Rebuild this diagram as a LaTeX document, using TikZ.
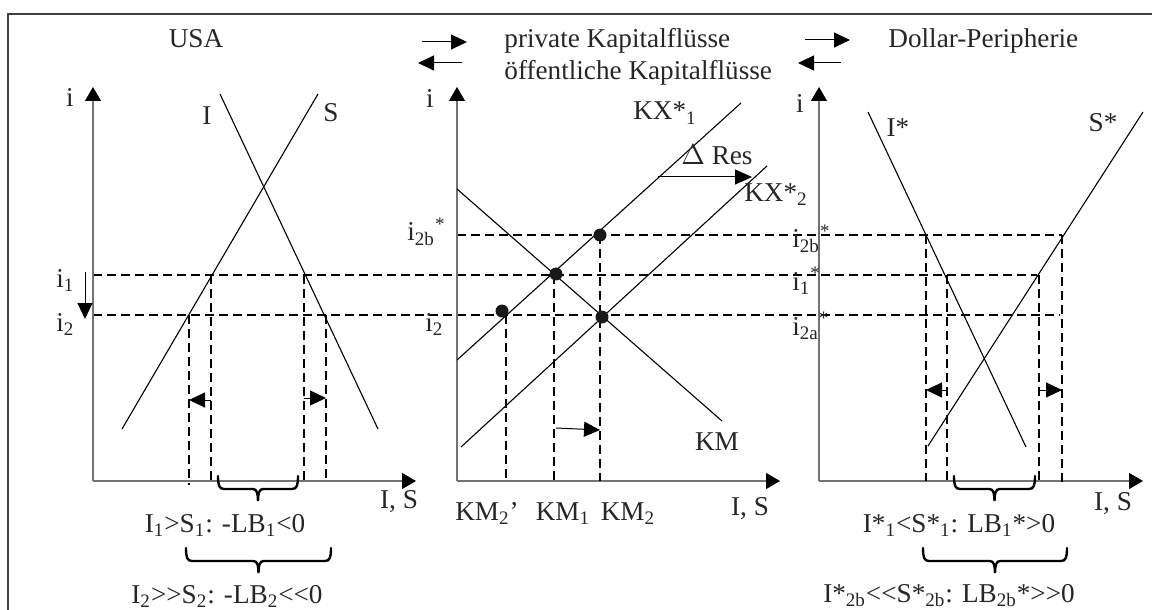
\documentclass[tikz,border=0pt]{standalone}
\usepackage{fontspec}
\setmainfont{Liberation Serif}
\usetikzlibrary{arrows.meta}
\newcommand\lsub[1]{\textsubscript{#1}}
\newcommand\lsup[1]{\textsuperscript{#1}}
\newcommand\ubrace[3]{% x1, x2, y : downward brace
  \pgfmathsetmacro\bxm{(#1+#2)/2}%
  \draw[brc] (#1,#3) .. controls +(0,9) and +(-5,0) .. ++(6,13)
    -- ({\bxm-5},{#3+13}) .. controls +(4,0) and +(0,-7) .. ({\bxm},{#3+25})
    .. controls +(0,-7) and +(-4,0) .. ({\bxm+5},{#3+13})
    -- ({#2-6},{#3+13}) .. controls +(5,0) and +(0,9) .. (#2,#3);}
\begin{document}
\begin{tikzpicture}[x=0.5pt,y=-0.5pt,
  txt/.style={inner sep=0pt, text=black!85, font=\fontsize{13.6}{15}\selectfont},
  axis/.style={draw=black!55, line width=0.6pt, -{Triangle[length=7pt,width=8pt,color=black]}},
  curve/.style={draw=black, line width=0.55pt},
  guide/.style={draw=black, line width=1.35pt, dash pattern=on 4.5pt off 2.5pt},
  small/.style={draw=black, line width=0.5pt, -{Triangle[length=8pt,width=7.5pt]}},
  brc/.style={draw=black, line width=1.2pt, line cap=round},
  dot/.style={circle, fill=black!90, minimum size=6.5pt, inner sep=0pt}
]
\useasboundingbox (0,0) rectangle (1152,610);
% frame
\draw[black!75, line width=1.2pt] (8,610) -- (8,14) -- (1152,14);

% ---------- header ----------
\node[txt, anchor=base] (usa) at (196,48) {USA};
\node[txt, anchor=base west] (priv) at (504,48) {private Kapitalflüsse};
\node[txt, anchor=base west] (oeff) at (504,80) {öffentliche Kapitalflüsse};
\node[txt, anchor=base west] (dp) at (888,48) {Dollar-Peripherie};
\coordinate (ta1) at (422,42); \coordinate (tb1) at (467,42);
\coordinate (ta2) at (462,63); \coordinate (tb2) at (418,63);
\coordinate (ta3) at (805,40); \coordinate (tb3) at (850,40);
\coordinate (ta4) at (841,63); \coordinate (tb4) at (798,63);
\draw[small] (ta1) -- (tb1);
\draw[small] (ta2) -- (tb2);
\draw[small] (ta3) -- (tb3);
\draw[small] (ta4) -- (tb4);

% ---------- dashed guides (horizontal) ----------
\draw[guide] (93,275) -- (1037,275);
\draw[guide] (93,315) -- (1060,315);
\draw[guide] (457,235) -- (1062,235);

% ---------- left panel ----------
\coordinate (lo) at (93,481);
\draw[axis] (lo) -- (93,87);
\draw[axis] (lo) -- (416,481);
\draw[curve] (220,94) -- (378,429);
\draw[curve] (122,429) -- (318,94);
\node[txt, anchor=base] (li) at (70,107) {i};
\node[txt, anchor=base] (lI) at (207,125) {I};
\node[txt, anchor=base] (lS) at (331,122) {S};
\node[txt, anchor=base west] (li1) at (56,287) {i\lsub{1}};
\node[txt, anchor=base west] (li2) at (56,331) {i\lsub{2}};
\draw[draw=black, line width=0.5pt, -{Triangle[length=8pt,width=7.5pt]}] (85,272) -- (85,319);
\draw[guide] (189,315) -- (189,485);
\draw[guide] (211,275) -- (211,481);
\draw[guide] (304,275) -- (304,481);
\draw[guide] (326,315) -- (326,483);
\draw[small] (211,400) -- (189,400);
\draw[small] (304,398) -- (326,398);
\node[txt, anchor=base] (lIS) at (399,508) {I, S};
\ubrace{218}{298}{476}
\ubrace{186}{331}{548}
\node[txt, anchor=base] (lb1) at (225,532) {I\lsub{1}>S\lsub{1}: -LB\lsub{1}<0};
\node[txt, anchor=base] (lb2) at (227,603) {I\lsub{2}>{}>S\lsub{2}: -LB\lsub{2}<{}<0};

% ---------- middle panel ----------
\coordinate (mo) at (457,481);
\draw[axis] (mo) -- (457,87);
\draw[axis] (mo) -- (780,481);
\draw[curve] (457,189) -- (722,421);
\draw[curve] (457,360) -- (741,103);
\draw[curve] (461,447) -- (767,166);
\draw[draw=black, line width=0.5pt, -{Triangle[length=8.5pt,width=7.5pt]}] (658,177) -- (752,177);
\node[txt, anchor=base] (mi) at (430,108) {i};
\node[txt, anchor=base] (kx1) at (665,120) {KX*\lsub{1}};
\node[txt, anchor=base] (dres) at (717,165) {$\Delta$ Res};
\node[txt, anchor=base] (kx2) at (776,201) {KX*\lsub{2}};
\node[txt, anchor=base west] (mi2b) at (407,241) {i\lsub{2b}\lsup{*}};
\node[txt, anchor=base west] (mi2) at (425,331) {i\lsub{2}};
\node[txt, anchor=base] (km) at (717,450) {KM};
\draw[guide] (506,315) -- (506,479);
\draw[guide] (554,275) -- (554,481);
\draw[guide] (600,235) -- (600,481);
\draw[small] (556,428) -- (600,430);
\node[dot] (d1) at (600,235) {};
\node[dot] (d2) at (556,274) {};
\node[dot] (d3) at (502,311) {};
\node[dot] (d4) at (602,317) {};
\node[txt, anchor=base] (km2p) at (487,520) {KM\lsub{2}’};
\node[txt, anchor=base] (km1) at (563,520) {KM\lsub{1}};
\node[txt, anchor=base] (km2) at (628,520) {KM\lsub{2}};
\node[txt, anchor=base] (mIS) at (750,515) {I, S};

% ---------- right panel ----------
\coordinate (ro) at (819,481);
\draw[axis] (ro) -- (819,87);
\draw[axis] (ro) -- (1143,481);
\draw[curve] (868,112) -- (1026,447);
\draw[curve] (928,446) -- (1143,112);
\node[txt, anchor=base] (ri) at (800,113) {i};
\node[txt, anchor=base] (rI) at (898,137) {I*};
\node[txt, anchor=base] (rS) at (1103,132) {S*};
\node[txt, anchor=base west] (ri2b) at (792,248) {i\lsub{2b}\lsup{*}};
\node[txt, anchor=base west] (ri1) at (792,290) {i\lsub{1}\lsup{*}};
\node[txt, anchor=base west] (ri2a) at (792,335) {i\lsub{2a}\lsup{*}};
\draw[guide] (926,235) -- (926,481);
\draw[guide] (947,275) -- (947,481);
\draw[guide] (1039,275) -- (1039,481);
\draw[guide] (1062,235) -- (1062,485);
\draw[small] (947,390) -- (926,390);
\draw[small] (1039,390) -- (1062,390);
\node[txt, anchor=base] (rIS) at (1113,510) {I, S};
\ubrace{954}{1035}{476}
\ubrace{923}{1067}{548}
\node[txt, anchor=base] (rb1) at (959,532) {I*\lsub{1}<S*\lsub{1}: LB\lsub{1}*>0};
\node[txt, anchor=base] (rb2) at (949,602) {I*\lsub{2b}<{}<S*\lsub{2b}: LB\lsub{2b}*>{}>0};
\end{tikzpicture}
\end{document}
